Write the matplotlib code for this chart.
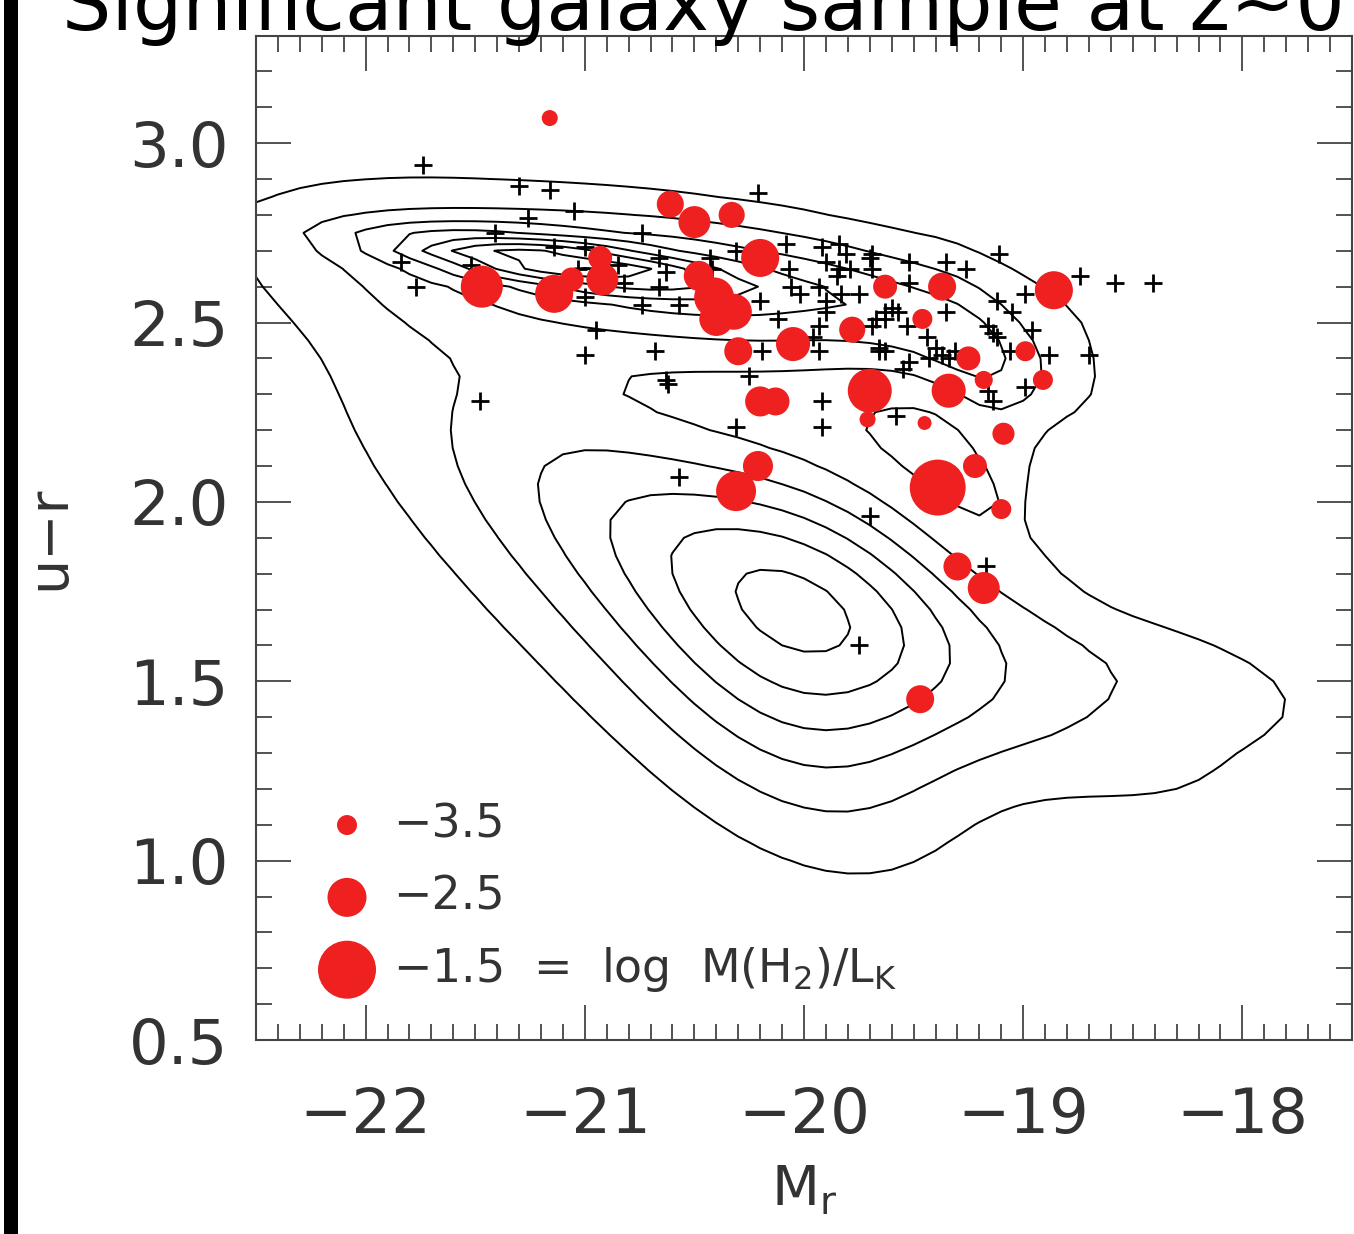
import numpy as np
import matplotlib
matplotlib.use("Agg")
from matplotlib import pyplot as plt
from matplotlib.patches import Rectangle
from matplotlib.ticker import MultipleLocator

plt.rcParams["font.family"] = ["DejaVu Sans"]
plt.rcParams["mathtext.default"] = "regular"

# galaxies with CO (red circles): M_r, u-r, log M(H2)/L_K
red_mr = [-21.16, -21.47, -21.14, -21.06, -20.93, -20.92, -20.61, -20.50, -20.33, -20.20,
          -20.48, -20.41, -20.32, -20.40, -20.30, -20.05, -19.78, -19.63, -19.37, -19.46,
          -18.86, -19.25, -18.99, -19.18, -18.91, -19.70, -19.34, -19.71, -19.45, -19.09,
          -19.22, -19.39, -19.10, -19.30, -19.18, -19.47, -20.31, -20.21, -20.20, -20.13]
red_ur = [3.07, 2.60, 2.58, 2.62, 2.68, 2.62, 2.83, 2.78, 2.80, 2.68,
          2.63, 2.57, 2.53, 2.51, 2.42, 2.44, 2.48, 2.60, 2.60, 2.51,
          2.59, 2.40, 2.42, 2.34, 2.34, 2.31, 2.31, 2.23, 2.22, 2.19,
          2.10, 2.04, 1.98, 1.82, 1.76, 1.45, 2.03, 2.10, 2.28, 2.28]
red_logh2 = [-3.71, -2.34, -2.55, -3.29, -3.29, -2.87, -3.13, -2.87, -3.18, -2.55,
             -2.97, -2.45, -2.66, -2.76, -3.08, -2.76, -3.18, -3.29, -3.08, -3.50,
             -2.55, -3.29, -3.50, -3.60, -3.50, -2.24, -2.76, -3.71, -3.82, -3.39,
             -3.29, -1.61, -3.50, -3.08, -2.87, -3.08, -2.45, -2.97, -2.97, -3.08]

# galaxies without CO detection (crosses)
plus_mr = [-21.74, -21.30, -21.16, -21.05, -21.26, -21.41, -21.84, -21.52, -21.77, -21.14,
           -21.00, -20.85, -20.82, -21.00, -20.74, -20.74, -21.03, -20.95, -21.00, -20.68,
           -20.63, -21.48, -20.21, -20.66, -20.63, -20.66, -20.57, -20.43, -20.42, -20.31,
           -20.08, -20.07, -20.20, -20.06, -20.02, -19.92, -19.84, -19.90, -19.81, -19.84,
           -19.93, -19.85, -19.79, -19.90, -19.90, -19.93, -19.96, -19.83, -19.75, -19.69,
           -19.63, -19.63, -19.69, -19.66, -19.69, -20.19, -20.12, -19.35, -19.26, -19.11,
           -18.74, -18.58, -18.41, -18.99, -19.12, -19.05, -19.35, -19.16, -19.14, -19.12,
           -18.96, -19.06, -18.88, -18.70, -18.99, -19.70, -19.52, -19.52, -19.60, -19.57,
           -19.67, -19.53, -19.63, -19.44, -19.40, -19.37, -19.52, -19.34, -19.31, -19.43,
           -19.16, -19.55, -19.14, -19.58, -19.92, -19.92, -20.31, -20.25, -19.93, -19.66,
           -20.62, -20.57, -19.70, -19.75, -19.17]
plus_ur = [2.94, 2.88, 2.87, 2.81, 2.79, 2.75, 2.67, 2.66, 2.60, 2.71,
           2.71, 2.66, 2.61, 2.57, 2.55, 2.75, 2.65, 2.48, 2.41, 2.42,
           2.34, 2.28, 2.86, 2.68, 2.64, 2.60, 2.55, 2.68, 2.65, 2.70,
           2.72, 2.65, 2.56, 2.60, 2.58, 2.71, 2.72, 2.67, 2.69, 2.65,
           2.60, 2.63, 2.65, 2.56, 2.53, 2.49, 2.46, 2.58, 2.58, 2.65,
           2.53, 2.51, 2.49, 2.43, 2.69, 2.42, 2.51, 2.67, 2.65, 2.69,
           2.63, 2.61, 2.61, 2.58, 2.56, 2.53, 2.53, 2.49, 2.47, 2.46,
           2.48, 2.42, 2.41, 2.41, 2.32, 2.68, 2.67, 2.61, 2.54, 2.53,
           2.51, 2.49, 2.42, 2.46, 2.43, 2.41, 2.39, 2.40, 2.42, 2.40,
           2.31, 2.37, 2.28, 2.24, 2.28, 2.21, 2.21, 2.35, 2.42, 2.42,
           2.33, 2.07, 1.96, 1.60, 1.82]

# parent sample density (SDSS), rough model of the contour map:
# Mr centre, u-r centre, angle on plot (deg), major / minor width (mag), height
dens_mr = [-21.15, -20.50, -19.25, -19.93, -19.60, -21.10, -18.20, -19.10, -20.50]
dens_ur = [2.67, 2.60, 2.42, 1.65, 1.65, 1.95, 1.52, 2.20, 1.72]
dens_ang = [-7, -7, -25, -62, -25, -45, -15, -70, -50]
dens_major = [0.55, 1.05, 0.45, 0.60, 1.15, 1.20, 0.55, 0.45, 0.85]
dens_minor = [0.07, 0.25, 0.14, 0.45, 0.31, 0.45, 0.19, 0.15, 0.37]
dens_amp = [4.5, 4.0, 1.3, 3.0, 2.4, 1.6, 1.0, 1.0, 1.2]
contour_levels = [1, 2, 3, 4, 5, 6, 7, 8, 9, 10]

legend_vals = [-3.5, -2.5, -1.5]
legend_text = ["\u22123.5", "\u22122.5", "\u22121.5  =  log  M(H$_2$)/L$_K$"]

ur_per_mag = 0.611  # plot aspect: 1 mag on x looks as long as 0.611 in u-r


def size_of(v):
    # circle radius in points grows linearly with log M(H2)/L_K
    r = 7.2 + 6.84 * (np.asarray(v) + 3.5)
    return (2 * r) ** 2


# density grid (coarse, like a binned histogram)
gx = np.arange(-22.6, -17.35, 0.1)
gy = np.arange(0.6, 3.3, 0.05)
GX, GY = np.meshgrid(gx, gy)
Z = np.zeros_like(GX)
for m0, c0, a, s1, s2, amp in zip(dens_mr, dens_ur, dens_ang, dens_major, dens_minor, dens_amp):
    dx = GX - m0
    dy = (GY - c0) / ur_per_mag
    th = np.deg2rad(a)
    u = dx * np.cos(th) + dy * np.sin(th)
    w = -dx * np.sin(th) + dy * np.cos(th)
    Z += amp * np.exp(-0.5 * (u / s1) ** 2 - 0.5 * (w / s2) ** 2)

fig = plt.figure(figsize=(13.54, 12.34), dpi=100)
ax = fig.add_axes([0.1891, 0.1572, 0.8094, 0.814])

ax.contour(GX, GY, Z, levels=contour_levels, colors="black", linewidths=1.4)
ax.plot(plus_mr, plus_ur, "+", color="black", markersize=13, markeredgewidth=2.0)
ax.scatter(red_mr, red_ur, s=size_of(red_logh2), color="#ee2020", edgecolors="none", zorder=5)

# legend for circle sizes
for i, (v, t) in enumerate(zip(legend_vals, legend_text)):
    yy = 0.214 - i * 0.072
    ax.scatter([0.083], [yy], s=size_of(v), color="#ee2020", edgecolors="none",
               transform=ax.transAxes, zorder=6)
    ax.text(0.125, yy, t, transform=ax.transAxes, fontsize=33, color="#333333",
            va="center", ha="left")

ax.set_xlim(-22.5, -17.5)
ax.set_ylim(0.5, 3.3)
ax.xaxis.set_minor_locator(MultipleLocator(0.1))
ax.yaxis.set_minor_locator(MultipleLocator(0.1))
ax.set_xticks([-22, -21, -20, -19, -18])
ax.set_xticklabels(["\u221222", "\u221221", "\u221220", "\u221219", "\u221218"])
ax.set_yticks([0.5, 1.0, 1.5, 2.0, 2.5, 3.0])
ax.set_yticklabels(["0.5", "1.0", "1.5", "2.0", "2.5", "3.0"])
ax.tick_params(which="both", direction="in", top=True, right=True, color="#444444", width=1.3)
ax.tick_params(which="major", length=25, labelsize=45, labelcolor="#333333")
ax.tick_params(axis="x", which="major", pad=33)
ax.tick_params(axis="y", which="major", pad=20)
ax.tick_params(which="minor", length=11.5)
for sp in ax.spines.values():
    sp.set_linewidth(1.5)
    sp.set_color("#444444")

ax.set_xlabel("M$_r$", fontsize=40, color="#333333", labelpad=12)
ax.set_ylabel("u\u2212r", fontsize=40, color="#333333", labelpad=38)

# title cut off at the top and the black bar on the left
fig.text(0.046, 0.9757, "Significant galaxy sample at z~0", fontsize=56, color="black",
         ha="left", va="baseline")
fig.add_artist(Rectangle((0.003, 0), 0.010, 1, transform=fig.transFigure,
                         facecolor="black", edgecolor="none"))

fig.savefig("out.png", dpi=100)
